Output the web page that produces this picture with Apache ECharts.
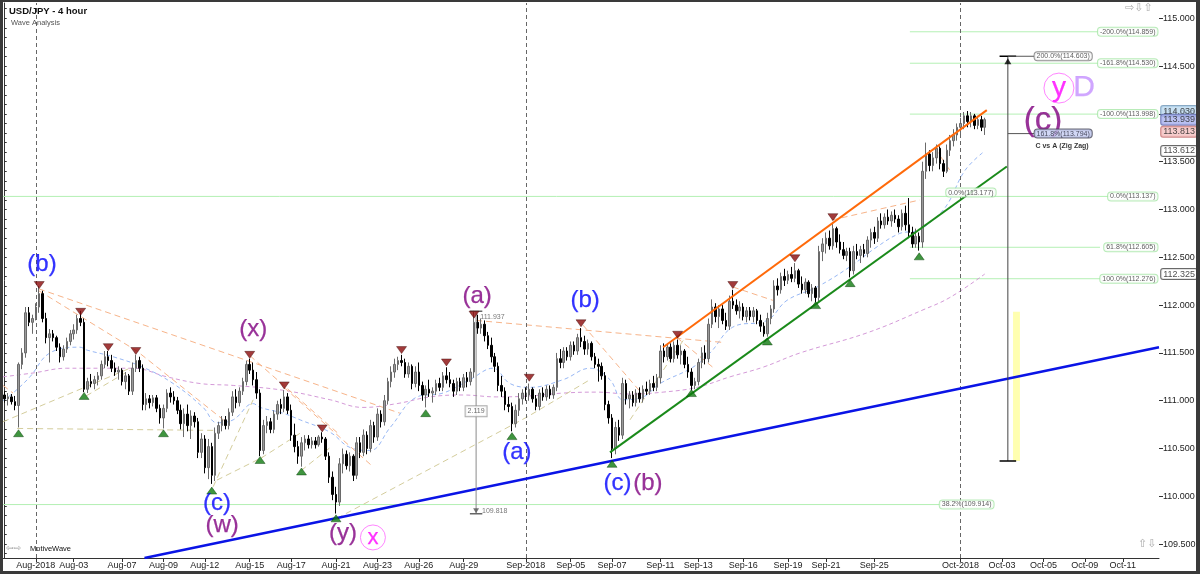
<!DOCTYPE html>
<html><head><meta charset="utf-8">
<script src="https://cdn.jsdelivr.net/npm/echarts@6/dist/echarts.min.js"></script>
<style>html,body{margin:0;padding:0;background:#fff;overflow:hidden}#c{width:1200px;height:574px}</style>
</head><body><div id="c"></div>
<script>
// ---- DATA ----
// candles: [open, high, low, close], one per 4-hour bar
const candles = [
[111.06,111.10,110.98,111.02],[111.02,111.08,110.95,111.04],[111.04,111.07,110.96,110.99],[110.99,111.05,110.90,110.95],[110.95,111.40,110.72,111.38],
[111.38,111.55,111.33,111.50],[111.50,111.98,111.45,111.92],[111.92,111.98,111.78,111.82],[111.82,111.90,111.70,111.86],[111.86,112.02,111.84,111.98],
[111.98,112.20,111.92,112.12],[112.12,112.15,111.82,111.86],[111.86,111.92,111.60,111.66],[111.66,111.75,111.40,111.70],[111.70,111.74,111.62,111.66],
[111.66,111.68,111.52,111.56],[111.56,111.60,111.40,111.46],[111.46,111.58,111.42,111.54],[111.54,111.66,111.50,111.62],[111.62,111.74,111.58,111.70],
[111.70,111.80,111.64,111.74],[111.74,111.90,111.70,111.86],[111.86,111.94,111.78,111.82],[111.82,111.86,111.09,111.12],[111.12,111.24,111.08,111.20],
[111.20,111.28,111.14,111.18],[111.18,111.26,111.12,111.22],[111.22,111.30,111.16,111.26],[111.26,111.42,111.22,111.38],[111.38,111.52,111.34,111.46],
[111.46,111.52,111.36,111.42],[111.42,111.48,111.30,111.34],[111.34,111.40,111.26,111.30],[111.30,111.36,111.22,111.32],[111.32,111.34,111.16,111.20],
[111.20,111.30,111.12,111.26],[111.26,111.28,111.06,111.10],[111.10,111.40,111.06,111.34],[111.34,111.48,111.30,111.42],[111.42,111.46,111.30,111.34],
[111.34,111.38,110.90,110.96],[110.96,111.08,110.90,111.02],[111.02,111.06,110.92,110.98],[110.98,111.06,110.94,111.03],[111.03,111.06,110.88,110.92],
[110.92,110.96,110.76,110.82],[110.82,110.96,110.71,110.92],[110.92,111.12,110.88,111.08],[111.08,111.14,110.98,111.04],[111.04,111.10,110.96,111.00],
[111.00,111.04,110.86,110.90],[110.90,110.96,110.70,110.76],[110.76,110.92,110.62,110.86],[110.86,110.96,110.68,110.74],[110.74,110.90,110.60,110.84],
[110.84,110.88,110.72,110.78],[110.78,110.82,110.40,110.46],[110.46,110.66,110.40,110.60],[110.60,110.64,110.24,110.30],[110.30,110.60,110.18,110.52],
[110.52,110.56,110.13,110.22],[110.22,110.72,110.16,110.66],[110.66,110.78,110.60,110.74],[110.74,110.84,110.68,110.80],[110.80,110.84,110.70,110.74],
[110.74,110.92,110.70,110.88],[110.88,111.10,110.84,111.04],[111.04,111.12,110.92,110.98],[110.98,111.14,110.94,111.10],[111.10,111.24,111.06,111.20],
[111.20,111.42,111.16,111.38],[111.38,111.44,111.28,111.32],[111.32,111.40,111.16,111.22],[111.22,111.30,111.02,111.08],[111.08,111.12,110.42,110.48],
[110.48,110.80,110.44,110.74],[110.74,110.84,110.66,110.78],[110.78,110.82,110.66,110.70],[110.70,110.90,110.66,110.86],[110.86,111.00,110.80,110.96],
[110.96,111.02,110.86,110.92],[110.92,111.11,110.88,111.04],[111.04,111.08,110.86,110.90],[110.90,110.96,110.58,110.64],[110.64,110.76,110.46,110.52],
[110.52,110.58,110.34,110.42],[110.42,110.62,110.31,110.56],[110.56,110.64,110.48,110.60],[110.60,110.64,110.50,110.54],[110.54,110.62,110.50,110.58],
[110.58,110.62,110.50,110.54],[110.54,110.64,110.52,110.62],[110.62,110.67,110.56,110.60],[110.60,110.62,110.38,110.42],[110.42,110.46,110.14,110.20],
[110.20,110.26,109.96,110.02],[110.02,110.10,109.82,109.94],[109.94,110.40,109.90,110.34],[110.34,110.50,110.24,110.44],[110.44,110.48,110.28,110.32],
[110.32,110.46,110.26,110.42],[110.42,110.44,110.16,110.22],[110.22,110.62,110.18,110.56],[110.56,110.62,110.40,110.46],[110.46,110.70,110.42,110.64],
[110.64,110.68,110.44,110.50],[110.50,110.80,110.46,110.74],[110.74,110.78,110.56,110.62],[110.62,110.92,110.58,110.86],[110.86,110.90,110.72,110.78],
[110.78,111.06,110.74,111.00],[111.00,111.24,110.96,111.20],[111.20,111.36,111.14,111.30],[111.30,111.44,111.24,111.38],[111.38,111.46,111.32,111.42],
[111.42,111.48,111.36,111.40],[111.40,111.44,111.24,111.28],[111.28,111.40,111.24,111.36],[111.36,111.38,111.12,111.18],[111.18,111.36,111.14,111.30],
[111.30,111.40,111.10,111.16],[111.16,111.20,111.00,111.06],[111.06,111.16,110.93,111.12],[111.12,111.22,111.04,111.08],[111.08,111.14,110.98,111.10],
[111.10,111.22,111.06,111.18],[111.18,111.24,111.10,111.14],[111.14,111.30,111.10,111.26],[111.26,111.35,111.18,111.22],[111.22,111.30,111.14,111.18],
[111.18,111.22,111.04,111.10],[111.10,111.24,111.06,111.20],[111.20,111.24,111.10,111.14],[111.14,111.28,111.10,111.24],[111.24,111.30,111.14,111.20],
[111.20,111.34,111.16,111.30],[111.30,111.94,111.24,111.82],[111.82,111.90,111.70,111.76],[111.76,111.86,111.70,111.80],[111.80,111.84,111.62,111.68],
[111.68,111.72,111.54,111.58],[111.58,111.66,111.40,111.46],[111.46,111.50,111.30,111.36],[111.36,111.40,111.10,111.16],[111.16,111.26,111.04,111.10],
[111.10,111.14,110.90,110.96],[110.96,111.04,110.88,110.94],[110.94,110.98,110.68,110.76],[110.76,110.96,110.72,110.90],[110.90,111.08,110.84,111.02],
[111.02,111.12,110.96,111.08],[111.08,111.14,111.00,111.06],[111.06,111.18,111.00,111.12],[111.12,111.14,110.98,111.02],[111.02,111.06,110.90,110.94],
[110.94,111.12,110.90,111.08],[111.08,111.14,111.00,111.04],[111.04,111.16,111.00,111.12],[111.12,111.16,111.02,111.06],[111.06,111.17,111.02,111.14],
[111.14,111.50,111.10,111.44],[111.44,111.54,111.34,111.40],[111.40,111.56,111.34,111.52],[111.52,111.56,111.42,111.46],[111.46,111.62,111.42,111.58],
[111.58,111.62,111.48,111.52],[111.52,111.70,111.48,111.66],[111.66,111.76,111.56,111.62],[111.62,111.68,111.48,111.54],[111.54,111.64,111.48,111.60],
[111.60,111.62,111.42,111.46],[111.46,111.50,111.34,111.38],[111.38,111.44,111.20,111.36],[111.36,111.40,111.22,111.26],[111.26,111.30,110.90,110.96],
[110.96,111.00,110.76,110.82],[110.82,110.86,110.40,110.50],[110.50,110.78,110.44,110.72],[110.72,110.80,110.58,110.64],[110.64,111.24,110.60,111.18],
[111.18,111.22,110.96,111.02],[111.02,111.10,110.92,111.06],[111.06,111.10,110.94,110.98],[110.98,111.12,110.94,111.08],[111.08,111.14,110.98,111.02],
[111.02,111.16,110.98,111.12],[111.12,111.20,111.06,111.10],[111.10,111.22,111.06,111.18],[111.18,111.26,111.10,111.14],[111.14,111.28,111.10,111.24],
[111.24,111.58,111.18,111.52],[111.52,111.60,111.40,111.46],[111.46,111.60,111.42,111.56],[111.56,111.60,111.40,111.44],[111.44,111.62,111.40,111.58],
[111.58,111.64,111.44,111.48],[111.48,111.58,111.38,111.52],[111.52,111.54,111.34,111.38],[111.38,111.46,111.24,111.30],[111.30,111.34,111.11,111.16],
[111.16,111.24,111.12,111.20],[111.20,111.44,111.16,111.40],[111.40,111.56,111.34,111.50],[111.50,111.58,111.38,111.44],[111.44,111.86,111.40,111.80],
[111.80,112.06,111.76,111.98],[111.98,112.02,111.82,111.88],[111.88,112.00,111.76,111.96],[111.96,112.00,111.80,111.84],[111.84,111.92,111.74,111.78],
[111.78,112.10,111.74,112.04],[112.04,112.16,111.96,112.00],[112.00,112.06,111.90,111.94],[111.94,112.04,111.86,111.98],[111.98,112.02,111.84,111.88],
[111.88,111.98,111.82,111.94],[111.94,111.98,111.84,111.88],[111.88,111.98,111.82,111.94],[111.94,111.96,111.80,111.84],[111.84,111.90,111.72,111.78],
[111.78,111.82,111.67,111.70],[111.70,111.92,111.67,111.86],[111.86,112.00,111.80,111.96],[111.96,112.26,111.92,112.20],[112.20,112.28,112.10,112.16],
[112.16,112.34,112.12,112.30],[112.30,112.38,112.20,112.26],[112.26,112.36,112.22,112.32],[112.32,112.40,112.24,112.28],[112.28,112.44,112.24,112.36],
[112.36,112.38,112.18,112.22],[112.22,112.30,112.12,112.16],[112.16,112.28,112.12,112.24],[112.24,112.26,112.08,112.12],[112.12,112.22,112.04,112.18],
[112.18,112.20,112.03,112.08],[112.08,112.62,112.04,112.56],[112.56,112.70,112.46,112.64],[112.64,112.76,112.54,112.70],[112.70,112.78,112.58,112.62],
[112.62,112.87,112.58,112.80],[112.80,112.82,112.60,112.66],[112.66,112.74,112.54,112.58],[112.58,112.66,112.48,112.52],[112.52,112.60,112.46,112.56],
[112.56,112.60,112.29,112.36],[112.36,112.62,112.32,112.56],[112.56,112.64,112.48,112.52],[112.52,112.62,112.44,112.58],[112.58,112.64,112.50,112.54],
[112.54,112.72,112.50,112.68],[112.68,112.80,112.60,112.76],[112.76,112.82,112.64,112.70],[112.70,112.92,112.66,112.88],[112.88,112.96,112.80,112.84],
[112.84,112.96,112.80,112.92],[112.92,113.00,112.84,112.88],[112.88,112.98,112.82,112.94],[112.94,113.00,112.86,112.90],[112.90,112.94,112.76,112.82],
[112.82,113.00,112.78,112.96],[112.96,113.04,112.78,112.84],[112.84,113.12,112.70,112.76],[112.76,112.82,112.60,112.64],[112.64,112.80,112.60,112.72],
[112.72,112.76,112.57,112.66],[112.66,113.50,112.60,113.40],[113.40,113.70,113.32,113.58],[113.58,113.62,113.40,113.46],[113.46,113.60,113.40,113.54],
[113.54,113.68,113.48,113.64],[113.64,113.66,113.42,113.48],[113.48,113.52,113.34,113.40],[113.40,113.68,113.38,113.62],[113.62,113.78,113.56,113.72],
[113.72,113.84,113.66,113.78],[113.78,113.90,113.72,113.86],[113.86,113.96,113.78,113.90],[113.90,114.02,113.84,113.98],[113.98,114.03,113.86,113.92],
[113.92,114.02,113.86,113.98],[113.98,114.00,113.84,113.88],[113.88,113.98,113.84,113.94],[113.94,113.98,113.82,113.86],[113.86,113.96,113.78,113.94]
];
// time-axis tick labels: [bar slot, label]
const xTicks = [[9,'Aug-2018'],[20,'Aug-03'],[34,'Aug-07'],[46,'Aug-09'],[58,'Aug-12'],[71,'Aug-15'],[83,'Aug-17'],[96,'Aug-21'],[108,'Aug-23'],[120,'Aug-26'],[133,'Aug-29'],[151,'Sep-2018'],[164,'Sep-05'],[176,'Sep-07'],[190,'Sep-11'],[201,'Sep-13'],[214,'Sep-16'],[227,'Sep-19'],[238,'Sep-21'],[252,'Sep-25'],[277,'Oct-2018'],[289,'Oct-03'],[301,'Oct-05'],[313,'Oct-09'],[324,'Oct-11']];
const monthStarts = [9,151,277];
const yLabels = [109.5,110,110.5,111,111.5,112,112.5,113,113.5,114,114.5,115];
// moving averages [bar, price]
const maBlue = [[-0.5,111.00],[2.4,111.08],[7.3,111.25],[13.1,111.50],[21.8,111.56],[23.8,111.53],[31.4,111.46],[40.1,111.35],[48.8,111.18],[57.5,110.93],[61.5,110.77],[66.2,110.80],[72.0,110.97],[74.0,110.93],[80.6,110.87],[85.6,110.80],[94.3,110.67],[100.1,110.51],[105.9,110.48],[111.7,110.72],[119.5,111.04],[127.0,111.08],[134.8,111.22],[141.5,111.34],[146.4,111.18],[152.2,111.14],[161.8,111.22],[169.6,111.34],[175.4,111.22],[179.2,111.01],[185.0,111.04],[189.9,111.18],[199.4,111.35],[204.4,111.50],[211.0,111.77],[220.9,111.84],[226.7,112.05],[235.4,112.19],[244.9,112.40],[252.8,112.61],[259.4,112.75],[264.4,112.78],[269.0,112.89],[273.1,113.05],[278.3,113.41],[284.0,113.612]];
const maPurple = [[-0.5,111.25],[8.2,111.29],[18.0,111.34],[37.2,111.34],[47.0,111.25],[56.6,111.18],[66.2,111.16],[80.6,111.11],[94.3,111.01],[103.8,110.93],[113.7,110.97],[123.2,111.04],[132.8,111.06],[142.6,111.04],[152.2,111.05],[161.8,111.08],[171.6,111.09],[181.2,111.07],[190.8,111.09],[200.6,111.14],[210.2,111.25],[219.7,111.35],[230.5,111.50],[249.9,111.71],[266.1,111.95],[273.9,112.08],[284.0,112.325]];
// swing markers [bar, price]
const swingHighs = [[10,112.21],[22,111.93],[30,111.56],[38,111.52],[71,111.48],[81,111.16],[92,110.71],[115,111.53],[128,111.40],[136,111.90],[152,111.24],[167,111.81],[195,111.69],[211,112.21],[229,112.49],[240,112.92]];
const swingLows = [[4,110.66],[23,111.05],[46,110.66],[60,110.06],[74,110.38],[86,110.26],[96,109.77],[122,110.87],[147,110.63],[176,110.34],[199,111.08],[221,111.62],[235,112.00],[245,112.23],[265,112.51]];
// trend lines
const blueTrend = [[40.5,109.355],[334.5,111.56]];
const orangeTrend = [[190.8,111.56],[284.6,114.04]];
const greenTrend = [[175.4,110.46],[290.4,113.45]];
const orangeDashed = [
 [[9.9,112.17],[114.5,110.87]], [[9.9,112.15],[38.3,111.52],[64.4,110.77]], [[71.1,111.47],[97.2,110.64]],
 [[80.9,111.14],[106.7,110.31]], [[136.6,111.84],[208.1,111.61]], [[167.6,111.79],[185.0,111.06]],
 [[194.8,111.66],[205.2,111.35]], [[211.0,112.19],[222.6,112.05]], [[239.7,112.89],[265.2,113.10]],
 [[269.6,113.64],[273.9,113.41]], [[-0.5,111.16],[2.4,111.08]]
];
const khakiDashed = [
 [[-0.5,110.78],[36.3,111.34]], [[3.6,110.71],[60.4,110.69]], [[23.6,111.05],[36.3,111.32]],
 [[60.4,110.10],[72.0,111.01]], [[61.5,110.17],[74.8,110.41]], [[74.3,110.40],[85.6,110.66]],
 [[85.9,110.27],[94.3,110.51]], [[96.3,109.77],[151.4,110.83],[169.6,111.22]], [[181.2,110.80],[196.6,111.63]]
];
// Fibonacci levels
const fibShort = [114.859,114.530,113.998,112.605,112.276];
const fibShortText = ['-200.0%(114.859)','-161.8%(114.530)','-100.0%(113.998)','61.8%(112.605)','100.0%(112.276)'];
const fibLong = [113.137,109.914];
const fibLongText = ['0.0%(113.137)','38.2%(109.914)'];
const fibExtra = [[113.177,'0.0%(113.177)']];
// right-axis price tags
const priceTags = [114.030,113.939,113.813,113.612,112.325];
// wave labels [text, bar, price]
const blueWaves = [['(b)',10.8,112.43],['(c)',61.5,109.93],['(a)',148.4,110.46],['(b)',168.2,112.05],['(c)',177.6,110.14]];
const purpleWaves = [['(x)',72.0,111.75],['(w)',63.0,109.70],['(y)',98.0,109.61],['(a)',136.9,112.09],['(b)',186.4,110.14]];
const bigWave = ['(c)',300.9,113.93];
const circledWaves = [['x',106.7,109.57],['y',305.5,114.27]];
const degreeLabel = ['D',312.8,114.27];
// measurements
const measureA = {bar:136.6, top:111.937, bottom:109.818, diff:'2.119'};
const measureC = {bar:290.7, top:114.603, bottom:110.37, mid:113.794};
const measureCText = ['200.0%(114.603)','161.8%(113.794)','C vs A (Zig Zag)'];
const yellowBar = [[292.2,111.93],[294.2,110.37]];

// ---- CHART ----
const slotCount = 335;
const FONT = 'Liberation Sans, Arial, sans-serif';
const tickMap = new Map(xTicks);
const cats = Array.from({length: slotCount}, (_, i) => String(i));
const ohlc = candles.map(r => [r[0], r[3], r[2], r[1]]);
const yMinor = [];
for (let v = 109.4; v <= 115.15; v += 0.1) yMinor.push(+v.toFixed(1));

function seg(data, color, width, type, z) {
  return {type:'line', xAxisIndex:1, data:data, symbol:'none', silent:true, z:z||3, animation:false,
    lineStyle:{color:color, width:width, type:type||'solid'}};
}
function txt(data, color, size, extra) {
  return Object.assign({type:'scatter', xAxisIndex:1, silent:true, symbolSize:1, z:8,
    itemStyle:{color:'transparent'},
    data:data.map(d => ({value:[d[1], d[2]], name:d[0]})),
    label:{show:true, position:'inside', formatter:p => p.name, color:color, fontSize:size, fontFamily:FONT,
      textBorderWidth:0.25, textBorderColor:color, textShadowBlur:0}}, extra||{});
}
function lbl(o) { return Object.assign({show:true, formatter:p=>p.name, textBorderWidth:0, textBorderColor:'transparent', fontFamily:FONT}, o); }
const series = [];
// fib lines
fibShort.forEach(v => series.push(seg([[262.3,v],[317.4,v]], '#b4f0b4', 1, 'solid', 1)));
series.push(seg([[-0.5,fibLong[0]],[320.3,fibLong[0]]], '#b4f0b4', 1, 'solid', 1));
series.push(seg([[-0.5,fibLong[1]],[271.3,fibLong[1]]], '#b4f0b4', 1, 'solid', 1));
// month separators
series.push({type:'line', xAxisIndex:1, data:[], symbol:'none', silent:true, z:1,
  markLine:{symbol:'none', silent:true, label:{show:false}, lineStyle:{color:'#666', type:[4,3], width:1},
    data: monthStarts.map(m => ({xAxis:m}))}});
// yellow bar
series.push({type:'line', xAxisIndex:1, data:[], symbol:'none', silent:true, z:1,
  markArea:{silent:true, itemStyle:{color:'#ffffb0'}, data:[[{coord:yellowBar[0]},{coord:yellowBar[1]}]]}});
// MAs
series.push(Object.assign(seg(maPurple, '#d49ad8', 1, [4,3], 2), {smooth:0.4}));
series.push(Object.assign(seg(maBlue, '#98b8f5', 1, [4,3], 2), {smooth:0.4}));
orangeDashed.forEach(d => series.push(seg(d, '#f7b48a', 1, [6,4], 2)));
khakiDashed.forEach(d => series.push(seg(d, '#d4cd9c', 1, [6,4], 2)));
// candles
series.push({type:'candlestick', xAxisIndex:0, data:ohlc, barWidth:2, z:4, animation:false,
  itemStyle:{color:'#9a9a9a', borderColor:'#6a6a6a', color0:'#000', borderColor0:'#000', borderWidth:1}});
// trend lines
series.push(seg(blueTrend, '#0a14e6', 2.5, 'solid', 5));
series.push(seg(orangeTrend, '#ff6a0a', 2, 'solid', 5));
series.push(seg(greenTrend, '#1a8a1a', 2, 'solid', 5));
// measurement A (grey)
series.push(seg([[measureA.bar,measureA.top],[measureA.bar,measureA.bottom]], '#8a8a8a', 1, 'solid', 5));
series.push(seg([[measureA.bar-1.8,measureA.top],[measureA.bar+1.8,measureA.top]], '#666', 1.5, 'solid', 5));
series.push(seg([[measureA.bar-1.8,measureA.bottom],[measureA.bar+1.8,measureA.bottom]], '#666', 1.5, 'solid', 5));
// measurement C (black)
series.push(seg([[measureC.bar,measureC.top],[measureC.bar,measureC.bottom]], '#444', 1, 'solid', 5));
series.push(seg([[measureC.bar-2.4,measureC.top],[measureC.bar+2.4,measureC.top]], '#000', 1.5, 'solid', 5));
series.push(seg([[measureC.bar-2.4,measureC.bottom],[measureC.bar+2.4,measureC.bottom]], '#000', 1.5, 'solid', 5));
series.push(seg([[measureC.bar,measureC.top],[298.3,measureC.top]], '#555', 1, 'solid', 5));
series.push(seg([[measureC.bar,measureC.mid],[298.3,measureC.mid]], '#555', 1, 'solid', 5));
series.push({type:'scatter', xAxisIndex:1, silent:true, z:6, symbol:'triangle', symbolSize:[7,6],
  itemStyle:{color:'#000'}, data:[[measureC.bar,114.55]]});
series.push({type:'scatter', xAxisIndex:1, silent:true, z:6, symbol:'triangle', symbolRotate:180, symbolSize:[6,5],
  itemStyle:{color:'#555'}, data:[[measureA.bar,109.85]]});
// swing markers
series.push({type:'scatter', xAxisIndex:1, silent:true, z:7, symbol:'triangle', symbolRotate:180, symbolSize:[10,7],
  itemStyle:{color:'#8b0a0a', borderColor:'#3a0000', borderWidth:0.5}, data:swingHighs});
series.push({type:'scatter', xAxisIndex:1, silent:true, z:7, symbol:'triangle', symbolSize:[10,7],
  itemStyle:{color:'#0f7a0f', borderColor:'#003300', borderWidth:0.5}, data:swingLows});
// wave labels
series.push(txt(blueWaves, '#0000ff', 24));
series.push(txt(purpleWaves, '#800080', 24));
series.push(txt([bigWave], '#800080', 33));
series.push(txt([degreeLabel], '#c490ff', 30));
series.push(Object.assign(txt([circledWaves[0]], '#ff00ff', 22), {symbol:'circle', symbolSize:25,
  itemStyle:{color:'#fff', borderColor:'#ff66ff', borderWidth:1}}));
series.push(Object.assign(txt([circledWaves[1]], '#ff00ff', 28), {symbol:'circle', symbolSize:30,
  itemStyle:{color:'#fff', borderColor:'#ff66ff', borderWidth:1}}));
// measurement texts
series.push(txt([[measureA.top.toFixed(3), measureA.bar+0.8, 111.87]], '#555', 7, {label:lbl({position:'right', distance:1, color:'#555', fontSize:7})}));
series.push(txt([[measureA.bottom.toFixed(3), measureA.bar+1.3, 109.85]], '#555', 7, {label:lbl({position:'right', distance:1, color:'#555', fontSize:7})}));
series.push(txt([[measureA.diff, measureA.bar, 110.89]], '#444', 7, {label:lbl({position:'inside', color:'#444', fontSize:7, backgroundColor:'#fff', borderColor:'#999', borderWidth:1, padding:[2,2,1,2]})}));
series.push(txt([[measureCText[0], 298.3, measureC.top]], '#333', 7, {label:lbl({position:'right', distance:0, color:'#333', fontSize:7, backgroundColor:'#fff', borderColor:'#777', borderWidth:1, borderRadius:3, padding:[1,2,0,2]})}));
series.push(txt([[measureCText[1], 298.3, measureC.mid]], '#223', 7, {label:lbl({position:'right', distance:0, color:'#223', fontSize:7, backgroundColor:'#c6cdf2', borderColor:'#445', borderWidth:1, borderRadius:3, padding:[1,2,0,2]})}));
series.push(txt([[measureCText[2], 306.4, 113.66]], '#000', 7, {label:lbl({position:'inside', color:'#000', fontSize:7, fontWeight:'bold'})}));
// fib labels
const fibLabelStyle = lbl({position:'left', distance:0, color:'#333', fontSize:7,
  backgroundColor:'#fff', borderColor:'#a6e6a6', borderWidth:1, borderRadius:3, padding:[1,2,0,2]});
series.push(txt(fibShort.map((v,i)=>[fibShortText[i],334.2,v]), '#333', 7, {label:fibLabelStyle}));
series.push(txt([[fibLongText[0],334.2,fibLong[0]],[fibLongText[1],286.7,fibLong[1]],[fibExtra[0][1],287.3,fibExtra[0][0]]], '#333', 7, {label:fibLabelStyle}));
// price tags on right axis
const tagColors = [['#bcd9f0','#6b93b5'],['#a9b2ee','#5a63a8'],['#f4c0c0','#c06a6a'],['#ffffff','#444'],['#ffffff','#444']];
series.push({type:'scatter', xAxisIndex:1, silent:true, z:9, symbolSize:1, itemStyle:{color:'transparent'}, clip:false,
  data: priceTags.map((v,i)=>({value:[334.4,v], label:{backgroundColor:tagColors[i][0], borderColor:tagColors[i][1]}})),
  label:{show:true, position:'right', distance:2, formatter:p=>p.value[1].toFixed(3), color:'#222', fontSize:9, fontFamily:FONT,
    textBorderWidth:0, borderWidth:1, borderRadius:2, padding:[1,2,0,2]}});

const option = {
  animation:false,
  backgroundColor:'#fff',
  grid:{left:3, right:41, top:3, bottom:16, containLabel:false},
  xAxis:[
    {type:'category', data:cats, boundaryGap:true,
      axisLine:{show:true, lineStyle:{color:'#333', width:1}},
      axisTick:{show:true, alignWithLabel:true, interval:(i)=>tickMap.has(i), length:4, lineStyle:{color:'#333'}},
      axisLabel:{show:true, interval:(i)=>tickMap.has(i), formatter:(v,i)=>tickMap.get(+v)||'', color:'#222', fontSize:9, fontFamily:FONT, margin:3},
      splitLine:{show:false}},
    {type:'value', min:-0.5, max:334.5, show:false}
  ],
  yAxis:[
    {type:'value', position:'right', min:109.355, max:115.16, scale:true,
      axisLine:{show:true, lineStyle:{color:'#333'}},
      axisTick:{show:true, customValues:yMinor, length:2, lineStyle:{color:'#333'}},
      axisLabel:{show:true, customValues:yLabels, formatter:v=>Number(v).toFixed(3), color:'#222', fontSize:9, fontFamily:FONT, margin:4},
      splitLine:{show:false}},
    {type:'value', position:'right', min:109.355, max:115.16, scale:true,
      axisLine:{show:false},
      axisTick:{show:true, customValues:yLabels, length:4, lineStyle:{color:'#333'}},
      axisLabel:{show:false}, splitLine:{show:false}}
  ],
  series: series,
  graphic:[
    {type:'rect', shape:{x:0,y:0,width:3,height:574}, style:{fill:'#3a3a3a'}, z:100},
    {type:'rect', shape:{x:0,y:0,width:1200,height:2}, style:{fill:'#3a3a3a'}, z:100},
    {type:'rect', shape:{x:0,y:571,width:1200,height:3}, style:{fill:'#3a3a3a'}, z:100},
    {type:'rect', shape:{x:1196,y:0,width:4,height:574}, style:{fill:'#3a3a3a'}, z:100},
    {type:'text', left:9, top:6, style:{text:'USD/JPY - 4 hour', font:'bold 9.5px '+FONT, fill:'#111'}, z:100},
    {type:'text', left:11, top:19, style:{text:'Wave Analysis', font:'7.5px '+FONT, fill:'#555'}, z:100},
    {type:'text', left:1125, top:3, style:{text:'⇨⇩⇧', font:'11px DejaVu Sans', fill:'#aaa'}, z:100},
    {type:'text', left:6, top:544, style:{text:'⇦⇨', font:'9px DejaVu Sans', fill:'#999'}, z:100},
    {type:'text', left:30, top:545, style:{text:'MotiveWave', font:'7.5px '+FONT, fill:'#111'}, z:100},
    {type:'text', left:1138, top:539, style:{text:'⇧⇩', font:'11px DejaVu Sans', fill:'#aaa'}, z:100}
  ]
};
const chart = echarts.init(document.getElementById('c'), null, {renderer:'canvas'});
chart.setOption(option);
</script>
</body></html>
